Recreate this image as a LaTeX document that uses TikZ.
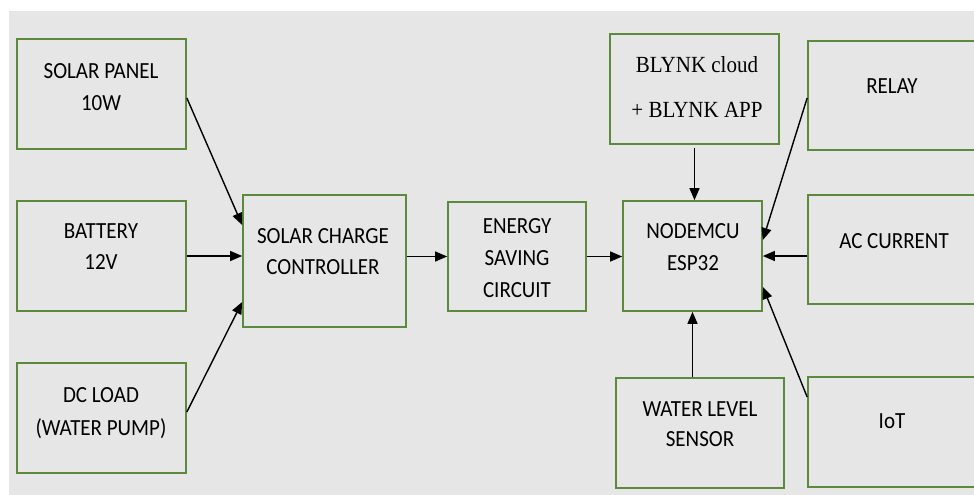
\documentclass[tikz,border=0pt]{standalone}
\usepackage{fontspec}
\setmainfont{Carlito}
\newfontfamily\tnr{Liberation Serif}
\usetikzlibrary{arrows.meta,calc}
\definecolor{bggray}{HTML}{E6E6E6}
\definecolor{boxgreen}{HTML}{5B8A3C}
\newcommand{\tallt}[1]{\scalebox{1}[1.1]{#1}}
\begin{document}
\begin{tikzpicture}[x=1pt,y=-1pt,
  box/.style={draw=boxgreen,line width=1.7pt,inner sep=0pt},
  lbl/.style={font=\fontsize{21}{24}\selectfont,anchor=base,inner sep=0pt,text=black},
  tlbl/.style={font=\tnr\fontsize{21}{24}\selectfont,anchor=base,inner sep=0pt,text=black},
  arr/.style={-{Triangle[length=12pt,width=10pt]},line width=1.4pt,black}]
\useasboundingbox[fill=white] (0,0) rectangle (974,495);
\fill[bggray] (9,11) rectangle (974,495);
% boxes
\node[box,minimum width=169pt,minimum height=110pt] (solar) at (101.5,94) {};
\node[box,minimum width=169pt,minimum height=110pt] (battery) at (101.5,256) {};
\node[box,minimum width=169pt,minimum height=110pt] (dcload) at (101.5,418) {};
\node[box,minimum width=163pt,minimum height=132pt] (scc) at (324.5,261) {};
\node[box,minimum width=138pt,minimum height=109pt] (energy) at (517,256.5) {};
\node[box,minimum width=139pt,minimum height=110pt] (mcu) at (692.5,256) {};
\node[box,minimum width=169pt,minimum height=110pt] (blynk) at (694.5,89) {};
\node[box,minimum width=168pt,minimum height=110pt] (water) at (700,433) {};
\begin{scope}
\clip (0,0) rectangle (974,495);
\node[box,minimum width=192pt,minimum height=109pt] (relay) at (904,95.5) {};
\node[box,minimum width=192pt,minimum height=109pt] (ac) at (904,249.5) {};
\node[box,minimum width=192pt,minimum height=110pt] (iot) at (904,432) {};
\end{scope}
% labels
\node[lbl] (t1) at (101,78) {\tallt{SOLAR PANEL}};
\node[lbl] (t2) at (101,110) {\tallt{10W}};
\node[lbl] (t3) at (101,238) {\tallt{BATTERY}};
\node[lbl] (t4) at (101,269) {\tallt{12V}};
\node[lbl] (t5) at (101,402) {\tallt{DC LOAD}};
\node[lbl] (t6) at (101,435) {\tallt{(WATER PUMP)}};
\node[lbl] (t7) at (323,243) {\tallt{SOLAR CHARGE}};
\node[lbl] (t8) at (323,274) {\tallt{CONTROLLER}};
\node[lbl] (t9) at (517,233) {\tallt{ENERGY}};
\node[lbl] (t10) at (517,265) {\tallt{SAVING}};
\node[lbl] (t11) at (517,297) {\tallt{CIRCUIT}};
\node[lbl] (t12) at (693,238) {\tallt{NODEMCU}};
\node[lbl] (t13) at (693,270) {\tallt{ESP32}};
\node[tlbl] (t14) at (697,73) {\tallt{BLYNK cloud}};
\node[tlbl] (t15) at (697,117) {\tallt{+ BLYNK APP}};
\node[lbl] (t16) at (892,93) {\tallt{RELAY}};
\node[lbl] (t17) at (894,248) {\tallt{AC CURRENT}};
\node[lbl] (t18) at (700,416) {\tallt{WATER LEVEL}};
\node[lbl] (t19) at (700,446) {\tallt{SENSOR}};
\node[lbl] (t20) at (892,428) {\tallt{IoT}};
% arrows
\draw[arr] ($(solar.east)+(0,4)$) -- ($(scc.west)+(0,-36)$);
\draw[arr] (battery.east) -- (battery.east -| scc.west);
\draw[arr] ($(dcload.east)+(0,-6)$) -- ($(scc.west)+(0,41)$);
\draw[arr] (energy.west -| scc.east) -- (energy.west);
\draw[arr] (energy.east) -- (energy.east -| mcu.west);
\draw[arr] ($(blynk.south)+(0,3)$) -- (blynk.south |- mcu.north);
\draw[arr] ($(relay.west)+(0,2.5)$) -- ($(mcu.east)+(0,-16)$);
\draw[arr] (mcu.east -| ac.west) -- (mcu.east);
\draw[arr] ($(iot.west)+(0,-35)$) -- ($(mcu.east)+(0,31)$);
\draw[arr] (mcu.south |- water.north) -- (mcu.south);
\end{tikzpicture}
\end{document}
